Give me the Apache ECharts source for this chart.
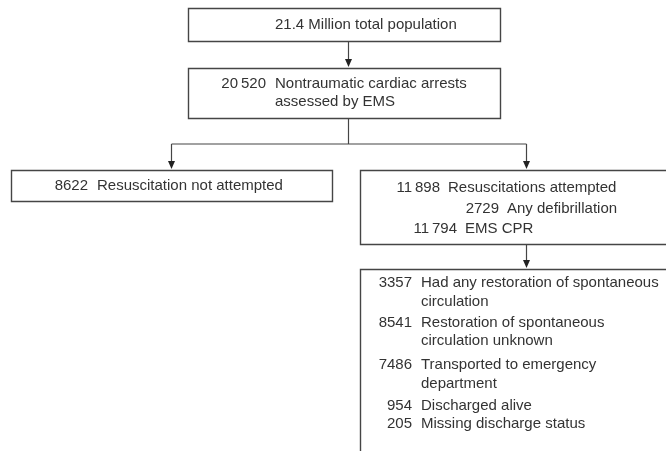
<!DOCTYPE html>
<html>
<head>
<meta charset="utf-8">
<script src="https://cdn.jsdelivr.net/npm/echarts@6/dist/echarts.min.js"></script>
<style>
html, body { margin: 0; padding: 0; background: #fff; }
#flow { width: 666px; height: 451px; }
</style>
</head>
<body>
<div id="flow"></div>
<script>
// counts
const populationMillions = 21.4;
const assessedCount = 20520;
const notAttemptedCount = 8622;
const attemptedCounts = [11898, 2729, 11794];
const attemptedLabels = ['Resuscitations attempted', 'Any defibrillation', 'EMS CPR'];
const outcomeCounts = [3357, 8541, 7486, 954, 205];
const outcomeLabels = [
  ['Had any restoration of spontaneous', 'circulation'],
  ['Restoration of spontaneous', 'circulation unknown'],
  ['Transported to emergency', 'department'],
  ['Discharged alive'],
  ['Missing discharge status']
];

// thin space as thousands separator, only for 5+ digit numbers
const fmt = n => n >= 10000 ? String(n).replace(/\B(?=(\d{3})+(?!\d))/g, '\u2009') : String(n);

// layout (chart units == pixels, y down)
const boxRects = [
  [188, 8, 500, 41],
  [188, 68, 500, 118],
  [11, 170, 332, 201],
  [360, 170, 690, 244],
  [360, 269, 690, 480]
];
const links = [
  [348, 41, 348, 68, 1],
  [348, 118, 348, 144, 0],
  [171, 144, 526, 144, 0],
  [171, 144, 171, 170, 1],
  [526, 144, 526, 170, 1],
  [526, 244, 526, 269, 1]
];

// text rows: [numRight, labelX, y, number, label]
const rows = [];
rows.push([275, 275, 25, '', populationMillions + ' Million total population']);
rows.push([266, 275, 84, fmt(assessedCount), 'Nontraumatic cardiac arrests']);
rows.push([266, 275, 102, '', 'assessed by EMS']);
rows.push([88, 97, 186, fmt(notAttemptedCount), 'Resuscitation not attempted']);
const attX = [[440, 448], [499, 507], [457, 465]];
attemptedCounts.forEach((c, i) => {
  rows.push([attX[i][0], attX[i][1], 188 + i * 20.5, fmt(c), attemptedLabels[i]]);
});
const outY = [[283, 302], [323, 341], [365, 384], [406], [424]];
outcomeCounts.forEach((c, i) => {
  outcomeLabels[i].forEach((l, j) => {
    rows.push([412, 421, outY[i][j], j === 0 ? fmt(c) : '', l]);
  });
});

const LINE = '#454545';
const FONT = '15px "Liberation Sans", Arial, sans-serif';
const TXT = '#333';

const chart = echarts.init(document.getElementById('flow'));
chart.setOption({
  backgroundColor: '#fff',
  animation: false,
  grid: { left: 0, right: 0, top: 0, bottom: 0 },
  xAxis: { type: 'value', min: 0, max: 666, show: false },
  yAxis: { type: 'value', min: 0, max: 451, inverse: true, show: false },
  series: [
    {
      type: 'custom',
      clip: false,
      data: boxRects,
      encode: { x: [0, 2], y: [1, 3] },
      renderItem: function (params, api) {
        const p0 = api.coord([api.value(0), api.value(1)]);
        const p1 = api.coord([api.value(2), api.value(3)]);
        return {
          type: 'rect',
          shape: { x: p0[0] + 0.5, y: p0[1] + 0.5, width: p1[0] - p0[0], height: p1[1] - p0[1] },
          style: { fill: '#fff', stroke: LINE, lineWidth: 1.4 }
        };
      }
    },
    {
      type: 'custom',
      clip: false,
      data: links,
      encode: { x: [0, 2], y: [1, 3] },
      renderItem: function (params, api) {
        const a = api.coord([api.value(0), api.value(1)]);
        const b = api.coord([api.value(2), api.value(3)]);
        const kids = [{
          type: 'line',
          shape: { x1: a[0] + 0.5, y1: a[1], x2: b[0] + 0.5, y2: b[1] - (api.value(4) ? 4 : 0) },
          style: { stroke: LINE, lineWidth: 1.2 }
        }];
        if (api.value(4)) {
          kids.push({
            type: 'polygon',
            shape: { points: [[b[0] - 3.5 + 0.5, b[1] - 9], [b[0] + 3.5 + 0.5, b[1] - 9], [b[0] + 0.5, b[1] - 1]] },
            style: { fill: '#222' }
          });
        }
        return { type: 'group', children: kids };
      }
    },
    {
      type: 'custom',
      clip: false,
      data: rows.map(r => [r[0], r[2], r[1]]),
      encode: { x: 0, y: 1 },
      renderItem: function (params, api) {
        const r = rows[params.dataIndex];
        const p = api.coord([api.value(0), api.value(1)]);
        const q = api.coord([api.value(2), api.value(1)]);
        return {
          type: 'group',
          children: [
            { type: 'text', style: { x: p[0], y: p[1], text: r[3], font: FONT, fill: TXT, align: 'right', verticalAlign: 'middle' } },
            { type: 'text', style: { x: q[0], y: q[1], text: r[4], font: FONT, fill: TXT, align: 'left', verticalAlign: 'middle' } }
          ]
        };
      }
    }
  ]
});
</script>
</body>
</html>
